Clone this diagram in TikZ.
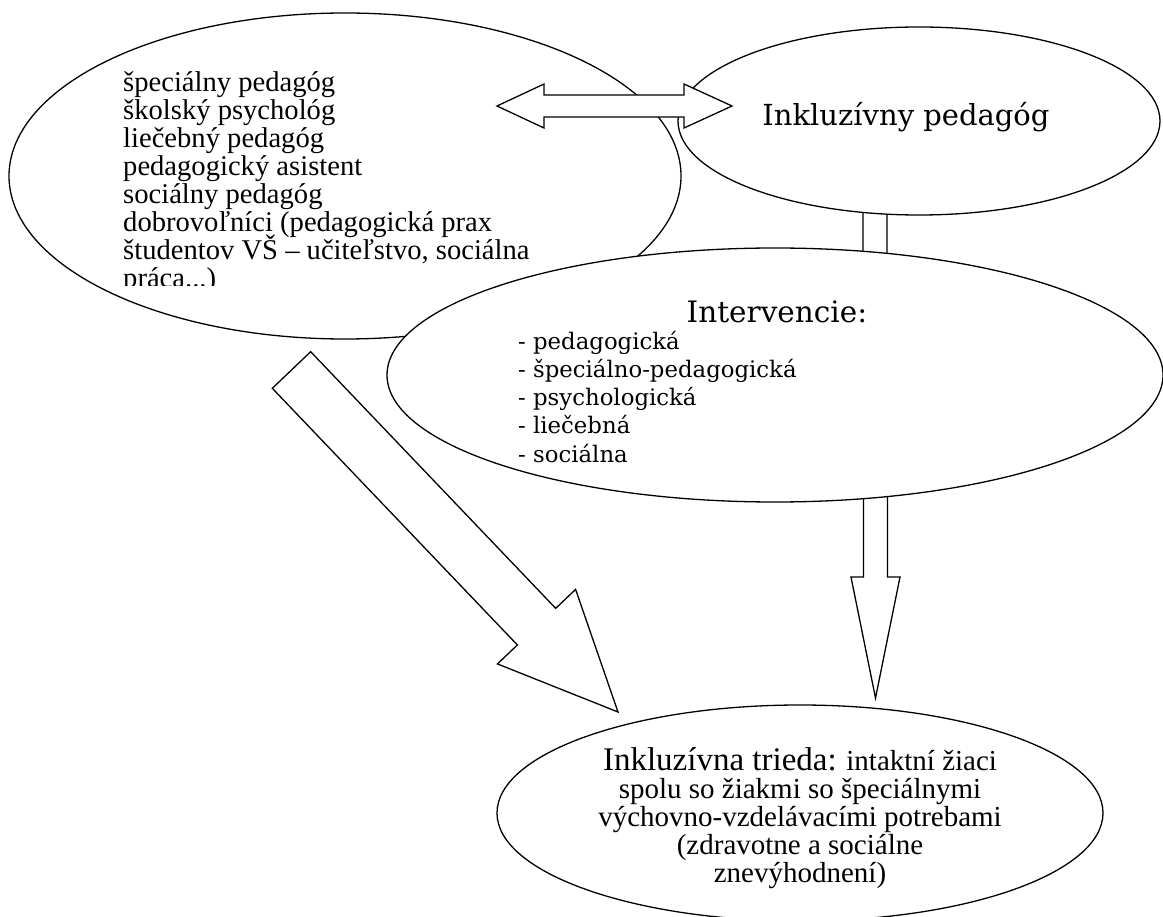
\documentclass[tikz,border=0pt]{standalone}
\usepackage{fontspec}
\setmainfont{DejaVu Serif}
\newfontfamily\tnr{Liberation Serif}
\usetikzlibrary{shapes.geometric,calc}
\newcommand{\blkarrow}[5]{%
  \coordinate (hb) at ($(#2)!#5!(#1)$);
  \draw[blk] ($(#1)!#3!90:(#2)$) -- ($(hb)!#3!90:(#2)$) -- ($(hb)!#4!90:(#2)$) -- (#2)
    -- ($(hb)!#4!-90:(#2)$) -- ($(hb)!#3!-90:(#2)$) -- ($(#1)!#3!-90:(#2)$) -- cycle;
}
\tikzset{
  ell/.style={ellipse, draw, fill=white, line width=1.3pt, inner sep=0pt},
  blk/.style={draw, fill=white, line width=1.3pt, line join=miter},
  stafftxt/.style={anchor=base west, inner sep=0pt, font=\tnr\fontsize{28.6}{28}\selectfont},
  listtxt/.style={anchor=base west, inner sep=0pt, font=\fontsize{22.8}{28}\selectfont},
  bigtxt/.style={anchor=base, inner sep=0pt, font=\fontsize{29}{32}\selectfont},
  titletxt/.style={anchor=base, inner sep=0pt, font=\fontsize{29.5}{34}\selectfont},
  classtxt/.style={anchor=base, inner sep=0pt, font=\tnr\fontsize{29}{28}\selectfont},
}
\begin{document}
\begin{tikzpicture}[x=1pt,y=-1pt]
\useasboundingbox (0,0) rectangle (1163,917);
% left ellipse with staff list
\node[ell, minimum width=672pt, minimum height=326pt] (staff) at (345,176) {};
\begin{scope}
\clip (0,0) rectangle (700,286);
\node[stafftxt] (s1) at (123,92) {špeciálny pedagóg};
\node[stafftxt] (s2) at (123,120) {školský psychológ};
\node[stafftxt] (s3) at (123,148) {liečebný pedagóg};
\node[stafftxt] (s4) at (123,176) {pedagogický asistent};
\node[stafftxt] (s5) at (123,204) {sociálny pedagóg};
\node[stafftxt] (s6) at (123,232) {dobrovoľníci (pedagogická prax};
\node[stafftxt] (s7) at (123,260) {študentov VŠ – učiteľstvo, sociálna};
\node[stafftxt] (s8) at (123,288) {práca...)};
\end{scope}
% small connector between the pedagogue and the interventions
\coordinate (connTail) at (875,195);
\coordinate (connTip) at (875,330);
\blkarrow{connTail}{connTip}{12pt}{24pt}{40pt}
% inclusive pedagogue
\node[ell, minimum width=482pt, minimum height=188pt] (ped) at (919,121) {};
\node[bigtxt] (pedtxt) at (906,126) {Inkluzívny pedagóg};
% double arrow
\draw[blk] (497,106) coordinate (dblL) -- (544,84) -- (544,95) -- (684,95) -- (684,84)
  -- (732,106) coordinate (dblR) -- (684,128) -- (684,117) -- (544,117) -- (544,128) -- cycle;
% vertical arrow to the class
\coordinate (vTail) at (875.5,450);
\coordinate (vTip) at (875.5,698);
\blkarrow{vTail}{vTip}{12pt}{24.5pt}{121pt}
% interventions
\node[ell, minimum width=776pt, minimum height=254pt] (int) at (775,375) {};
\node[titletxt] (inttitle) at (777,323) {Intervencie:};
\node[listtxt] (i1) at (518,350) {- pedagogická};
\node[listtxt] (i2) at (518,378) {- špeciálno-pedagogická};
\node[listtxt] (i3) at (518,406) {- psychologická};
\node[listtxt] (i4) at (518,434) {- liečebná};
\node[listtxt] (i5) at (518,462) {- sociálna};
% diagonal arrow
\coordinate (dTail) at (291.5,370);
\coordinate (dTip) at (618,712);
\blkarrow{dTail}{dTip}{26.5pt}{54pt}{118pt}
% inclusive class
\node[ell, minimum width=606pt, minimum height=216pt] (class) at (800,813) {};
\node[classtxt] (c1) at (800,770) {{\fontsize{33}{28}\selectfont Inkluzívna trieda:} intaktní žiaci};
\node[classtxt] (c2) at (800,798) {spolu so žiakmi so špeciálnymi};
\node[classtxt] (c3) at (800,826) {výchovno-vzdelávacími potrebami};
\node[classtxt] (c4) at (800,854) {(zdravotne a sociálne};
\node[classtxt] (c5) at (800,882) {znevýhodnení)};
\end{tikzpicture}
\end{document}
